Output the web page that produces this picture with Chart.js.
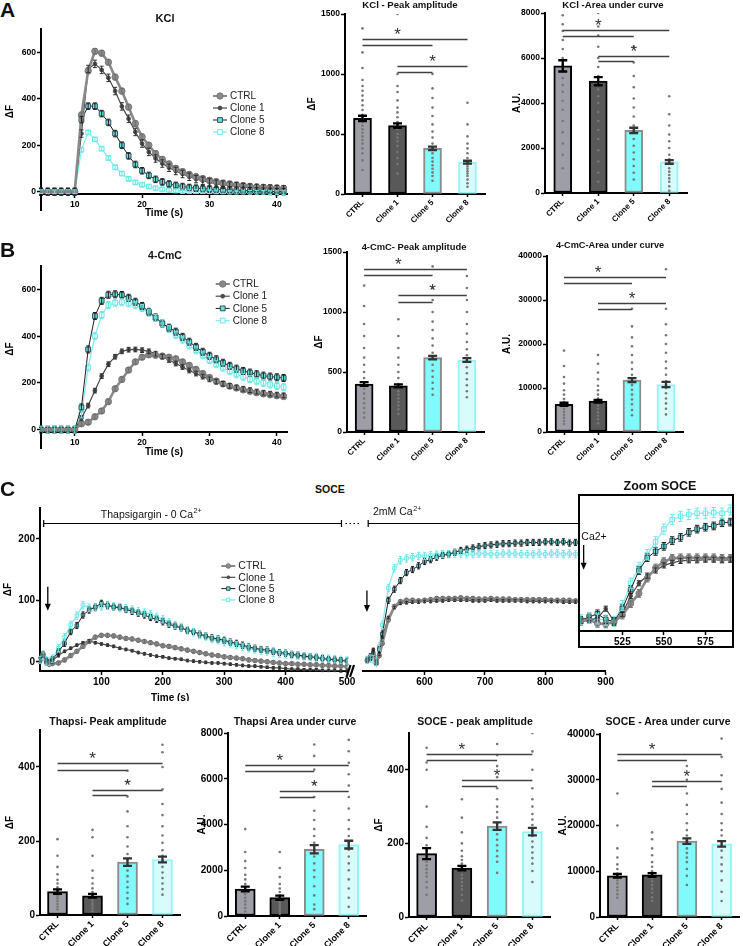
<!DOCTYPE html>
<html>
<head>
<meta charset="utf-8">
<script src="https://cdn.jsdelivr.net/npm/chart.js@4.4.1/dist/chart.umd.min.js"></script>
<style>
  html, body { margin: 0; padding: 0; background: #fff; }
  body { position: relative; width: 743px; height: 946px; overflow: hidden; font-family: 'Liberation Sans', Arial, sans-serif; }
  canvas { position: absolute; }
  .lbl { position: absolute; white-space: nowrap; line-height: 1; color: #111; }
</style>
</head>
<body>
<script>
// ---------- data ----------
const groups = ['CTRL', 'Clone 1', 'Clone 5', 'Clone 8'];

// A - KCl traces (ΔF)
const kclTime = [5,6,7,8,9,10,11,12,13,14,15,16,17,18,19,20,21,22,23,24,25,26,27,28,29,30,31,32,33,34,35,36,37,38,39,40,41];
const kclCtrl = [0,0,0,0,0,0,330,520,604,596,557,493,433,364,293,236,200,164,139,119,100,86,74,64,56,49,43,37,33,29,26,23,20,19,17,16,14];
const kclC1 = [0,0,0,0,0,0,250,528,550,524,490,433,367,314,257,207,171,143,121,103,89,76,64,54,47,40,34,30,26,23,20,17,16,14,13,11,10];
const kclC5 = [0,0,0,0,0,0,310,368,368,336,298,250,200,154,117,90,70,53,42,33,27,22,18,15,13,11,9,8,7,6,5,4,3,2,1,0,0];
const kclC8 = [0,0,0,0,0,0,180,255,225,185,145,105,78,55,40,30,22,15,10,7,5,3,2,1,0,0,-1,-1,-2,-2,-2,-3,-3,-3,-4,-4,-4];
const kclSem = [12, 16, 14, 8];

// B - 4-CmC traces (ΔF)
const cmcTime = kclTime;
const cmcCtrl = [0,0,0,0,0,0,25,32,55,80,120,175,215,255,290,310,320,318,315,310,303,290,275,258,240,223,208,196,186,178,170,164,158,153,149,145,142];
const cmcC1 = [0,0,0,0,0,0,50,103,167,229,280,312,335,342,343,340,335,325,312,298,283,268,253,240,227,215,205,196,188,181,175,169,163,158,154,150,147];
const cmcC5 = [0,0,0,0,0,0,95,343,486,551,577,579,576,564,547,529,504,480,454,436,419,397,376,354,333,316,301,286,273,261,251,244,237,231,227,224,221];
const cmcC8 = [0,0,0,0,0,0,65,266,400,490,533,543,545,540,532,520,500,478,455,430,405,385,360,340,318,298,280,265,250,237,226,216,207,200,193,187,182];
const cmcSem = [10, 10, 15, 15];

// C - SOCE traces, thapsigargin part (0 Ca2+)
const socTime1 = [0,5,10,15,20,30,40,50,60,70,80,90,100,110,120,130,140,150,160,170,180,190,200,210,220,230,240,250,260,270,280,290,300,310,320,330,340,350,360,370,380,390,400,410,420,430,440,450,460,470,480,490,500];
const socCtrl1 = [3,12,4,-3,-3,-2,3,10,17,25,33,40,43,43,42,40,38,37,35,33,31,29,26,25,23,21,19,17,15,13,11,10,8,7,6,5,3,2,1,0,-1,-2,-3,-3,-4,-4,-5,-5,-6,-6,-7,-7,-8];
const socC1_1 = [3,10,2,0,2,10,17,22,27,31,34,31,29,27,25,22,20,18,15,13,11,9,8,6,5,4,2,1,0,-1,-2,-2,-3,-4,-5,-6,-7,-7,-8,-9,-10,-10,-11,-12,-12,-13,-13,-13,-14,-14,-14,-15,-15];
const socC5_1 = [2,12,0,-2,3,16,30,49,59,76,84,89,95,92,89,88,85,82,79,76,72,69,65,61,58,55,51,49,45,42,39,37,35,32,30,27,24,22,20,19,17,15,14,12,11,9,8,7,5,4,3,2,1];
const socC8_1 = [3,10,2,0,5,22,40,60,75,92,88,88,90,91,90,89,87,85,82,80,77,73,69,64,60,56,51,48,44,41,37,35,32,30,27,24,22,20,18,17,15,13,12,11,10,9,8,7,6,5,4,3,2];
// C - SOCE traces, 2 mM Ca2+ part
const socTime2 = [505,510,515,520,525,530,540,550,560,570,580,590,600,610,620,630,640,650,660,670,680,690,700,710,720,730,740,750,760,770,780,790,800,810,820,830,840,850];
const socCtrl2 = [2,5,10,-3,10,30,68,90,98,100,100,99,100,101,103,103,103,103,104,103,103,102,102,103,102,102,102,101,101,101,101,101,101,100,100,100,100,99];
const socC1_2 = [3,5,20,0,12,40,72,88,95,96,97,97,98,98,99,99,100,100,100,100,99,99,99,100,99,99,99,99,99,98,98,98,98,98,98,97,97,97];
const socC5_2 = [3,8,14,0,20,45,100,118,132,145,150,156,163,166,170,173,175,178,181,183,185,187,189,190,191,192,192,193,193,194,194,194,195,195,194,195,193,194];
const socC8_2 = [3,5,4,0,25,60,120,152,165,168,170,172,172,173,174,175,175,176,176,175,175,176,176,175,175,176,176,176,175,175,175,176,175,176,176,175,176,175];
const socSem = [3, 2, 5, 6];
// Zoom SOCE
const zoomTime = [500,505,510,515,520,525,530,535,540,545,550,555,560,565,570,575,580,585,590];
const zoomCtrl = [0,3,-3,-4,-1,10,28,44,68,84,94,99,100,100,100,100,100,99,99];
const zoomC1 = [0,2,5,20,0,12,40,60,72,80,88,92,95,96,96,97,97,96,97];
const zoomC5 = [2,7,12,3,0,20,50,80,100,110,118,127,132,140,145,148,150,155,156];
const zoomC8 = [3,5,4,2,0,25,60,85,105,125,145,160,165,168,170,170,171,170,175];
const zoomSem = [6, 4, 6, 8];

// bar panels: mean, SEM, single cells, significance levels
// sig order: CTRL-Clone 8, CTRL-Clone 5, Clone 1-Clone 8, Clone 1-Clone 5
const kclPeakMean = [630, 570, 380, 265];
const kclPeakSem = [22, 18, 14, 12];
const kclPeakDots = [
  [1380,1180,1050,950,900,860,820,780,740,700,660,630,600,570,540,510,480,450,420,380,340,280,200],
  [1500,1000,900,850,780,720,680,640,600,570,540,500,470,440,400,350,300,250,170],
  [1000,880,800,720,650,580,520,470,420,380,340,300,270,240,210,180,150,110],
  [760,580,480,420,380,340,300,270,250,230,210,190,170,150,120,90,60]];
const kclPeakSig = [1290, 1240, 1070, 1020];

const kclAucMean = [5650, 4970, 2780, 1380];
const kclAucSem = [250, 180, 120, 80];
const kclAucDots = [
  [7900,7500,7200,6800,6400,6000,5700,5400,5100,4800,4500,4100,3700,3200,2700,2200,1700,1100],
  [8000,7400,7000,6500,6000,5600,5200,4900,4600,4300,4000,3600,3200,2800,2400,1900,1400,900,500],
  [6500,5800,5200,4700,4200,3800,3400,3000,2700,2400,2100,1800,1500,1200,900,600],
  [4300,3500,3000,2600,2300,2000,1700,1500,1300,1100,950,800,650,500,300,100]];
const kclAucSig = [7250, 7000, 6100, 5850];

const cmcPeakMean = [400, 385, 620, 600];
const cmcPeakSem = [15, 12, 15, 15];
const cmcPeakDots = [
  [1220,1050,900,800,700,620,560,500,450,400,360,320,280,240,200,160,120],
  [940,800,700,620,560,500,450,400,370,340,310,280,250,220,190,150],
  [1380,1200,1100,1000,920,850,780,720,660,610,560,510,460,410,360,310],
  [1300,1200,1100,1000,900,820,750,690,640,590,540,490,440,390,340,290]];
const cmcPeakSig = [1356, 1305, 1139, 1087];

const cmcAucMean = [6300, 7000, 11800, 10800];
const cmcAucSem = [350, 300, 450, 600];
const cmcAucDots = [
  [18500,15000,12500,11000,9500,8500,7500,6800,6000,5300,4600,3900,3200,2500,1800],
  [17500,15500,13500,12000,10500,9500,8500,7600,6800,6000,5300,4500,3700,2900,2000],
  [28000,24000,21500,19500,17500,15800,14300,13000,11800,10700,9600,8500,7400,6300,5000,3800],
  [37000,28000,24500,22000,20000,18000,16000,14500,13000,11500,10000,8800,7600,6500,5300,4000]];
const cmcAucSig = [35300, 33900, 29400, 28000];

const thPeakMean = [63, 52, 143, 150];
const thPeakSem = [6, 5, 10, 8];
const thPeakDots = [
  [205,160,130,110,95,85,75,68,60,52,45,38,30,22,15],
  [230,210,160,120,100,85,72,62,55,48,40,33,26,18,10],
  [390,360,320,280,240,210,185,165,150,135,120,105,90,75,60,45,30],
  [460,440,400,340,300,270,240,215,195,175,160,145,130,115,100,85,70,55]];
const thPeakSig = [410, 393, 337, 324];

const thAucMean = [1180, 800, 2920, 3120];
const thAucSem = [100, 90, 180, 170];
const thAucDots = [
  [3800,2800,2400,2100,1800,1600,1400,1250,1100,950,800,650,500,350,200],
  [2800,2100,1700,1400,1200,1050,900,800,700,600,500,400,300,200,100],
  [7500,7000,6400,5800,5200,4600,4200,3800,3500,3200,2900,2600,2300,2000,1700,1300,900,500,300],
  [7700,7200,6700,6200,5700,5200,4700,4200,3800,3500,3200,2900,2600,2300,2000,1600,1200,800,400]];
const thAucSig = [6620, 6330, 5480, 5200];

const socPeakMean = [172, 133, 247, 232];
const socPeakSem = [15, 6, 10, 10];
const socPeakDots = [
  [460,420,400,300,245,215,195,180,170,160,150,140,130,120,110,95,80,60],
  [320,270,230,200,180,165,155,145,135,125,115,105,95,85,75,60,45],
  [470,440,410,380,350,320,300,285,270,255,240,225,210,195,180,165,150,120],
  [500,450,400,350,320,300,280,265,250,235,220,205,190,175,160,145,125,95]];
const socPeakSig = [443, 427, 372, 357];

const socAucMean = [9000, 9200, 16600, 16000];
const socAucSem = [400, 400, 600, 600];
const socAucDots = [
  [27000,20000,15000,13000,11500,10500,9500,8800,8000,7300,6500,5800,5000,4200],
  [18500,17000,15000,13500,12000,11000,10000,9200,8500,7800,7000,6200,5300,4300,3500],
  [33000,30000,27000,24500,22500,20500,19000,17800,16800,16000,15000,14000,13000,12000,10500,9000,7000],
  [39000,35000,31000,28000,25000,22500,20500,19000,17800,16500,15500,14500,13000,11500,10000,8000,5500,3500]];
const socAucSig = [35560, 34250, 29800, 28650];

// ---------- styles ----------
const FAM = "'Liberation Sans', Arial, Helvetica, sans-serif";
Chart.defaults.font.family = FAM;
Chart.defaults.color = '#000';

const barFill = ['#9e9ea6', '#595959', '#80fafa', '#d8fcfc'];
const barEdge = ['#000000', '#000000', '#8c8c8c', '#96f4f4'];
const barErr = ['#000000', '#000000', '#333333', '#333333'];
const traceStyle = [
  { line: '#8a8a8a', lw: 2.6, shape: 'circle', r: 3.2, fill: '#8a8a8a', edge: '#7a7a7a', err: '#707070' },
  { line: '#4a4a4a', lw: 1.2, shape: 'circle', r: 1.9, fill: '#4a4a4a', edge: '#4a4a4a', err: '#303030' },
  { line: '#1e1e1e', lw: 1, shape: 'rect', r: 3.4, fill: '#63e3e3', edge: '#2f5252', err: '#1e1e1e' },
  { line: '#84efef', lw: 1.3, shape: 'rect', r: 3.4, fill: '#effefe', edge: '#6fe6e6', err: '#6fe6e6' }
];

// ---------- helpers ----------
function addLabel(text, x, y, size, weight, corner) {
  const d = document.createElement('div');
  d.className = 'lbl';
  d.textContent = text;
  d.style.left = x + 'px';
  d.style.top = y + 'px';
  d.style.fontSize = size + 'px';
  d.style.fontWeight = weight || 'bold';
  if (!corner) d.style.transform = 'translate(-50%, -50%)';
  document.body.appendChild(d);
}

function makeCanvas(area, m) {
  const w = area[2] - area[0] + m.l + m.r;
  const h = area[3] - area[1] + m.t + m.b;
  const c = document.createElement('canvas');
  c.width = w; c.height = h;
  c.style.left = (area[0] - m.l) + 'px';
  c.style.top = (area[1] - m.t) + 'px';
  c.style.width = w + 'px';
  c.style.height = h + 'px';
  document.body.appendChild(c);
  return c;
}

function yAxis(min, max, ticks, fs, title, titleX, area, m, hidden) {
  return {
    type: 'linear', min: min, max: max, display: !hidden,
    afterFit: s => { s.width = m.l; },
    afterBuildTicks: s => { s.ticks = ticks.map(v => ({ value: v })); },
    border: { color: '#000', width: 2 },
    grid: { drawOnChartArea: false, color: '#000', tickLength: 4, tickWidth: 1.5 },
    ticks: { font: { size: fs, weight: 'bold' }, color: '#000', padding: 1, callback: v => String(v) },
    title: {
      display: !!title, text: title || '', color: '#000',
      font: { size: 10, weight: 'bold' },
      padding: { top: Math.max(0, titleX - (area[0] - m.l) - 6), bottom: 0 }
    }
  };
}

function marker(ctx, ds, x, y) {
  const r = ds.pointRadius;
  ctx.fillStyle = ds.pointBackgroundColor;
  ctx.strokeStyle = ds.pointBorderColor;
  ctx.lineWidth = 1;
  ctx.beginPath();
  if (ds.pointStyle === 'rect') {
    const s = r * Math.SQRT1_2;
    ctx.rect(x - s, y - s, 2 * s, 2 * s);
  } else {
    ctx.arc(x, y, r, 0, Math.PI * 2);
  }
  ctx.fill();
  ctx.stroke();
}

function supText(ctx, base, sup, x, y, size) {
  ctx.textAlign = 'left';
  ctx.textBaseline = 'alphabetic';
  ctx.fillStyle = '#111';
  ctx.font = size + 'px ' + FAM;
  ctx.fillText(base, x, y);
  const w = ctx.measureText(base).width;
  ctx.font = (size * 0.68) + 'px ' + FAM;
  ctx.fillText(sup, x + w + 0.5, y - size * 0.42);
}

function arrowDown(ctx, x, yTop, yTip) {
  ctx.lineWidth = 1.3;
  ctx.beginPath();
  ctx.moveTo(x, yTop);
  ctx.lineTo(x, yTip - 5);
  ctx.stroke();
  ctx.beginPath();
  ctx.moveTo(x - 3, yTip - 7);
  ctx.lineTo(x + 3, yTip - 7);
  ctx.lineTo(x, yTip);
  ctx.closePath();
  ctx.fill();
}

// ---------- plugins ----------
const errorBars = {
  id: 'errorBars',
  afterDatasetsDraw(chart) {
    const ctx = chart.ctx;
    const ys = chart.scales.y;
    ctx.save();
    chart.data.datasets.forEach((ds, di) => {
      if (ds.sem === undefined) return;
      const meta = chart.getDatasetMeta(di);
      ctx.lineWidth = ds.errWidth;
      meta.data.forEach((el, i) => {
        const raw = ds.data[i];
        const v = typeof raw === 'number' ? raw : raw.y;
        const s = Array.isArray(ds.sem) ? ds.sem[i] : ds.sem;
        const yTop = ys.getPixelForValue(v + s);
        const yBot = ys.getPixelForValue(v - s);
        const cw = ds.capWidth;
        ctx.strokeStyle = Array.isArray(ds.errColor) ? ds.errColor[i] : ds.errColor;
        ctx.beginPath();
        ctx.moveTo(el.x, yTop); ctx.lineTo(el.x, yBot);
        ctx.moveTo(el.x - cw, yTop); ctx.lineTo(el.x + cw, yTop);
        ctx.moveTo(el.x - cw, yBot); ctx.lineTo(el.x + cw, yBot);
        ctx.stroke();
      });
    });
    ctx.restore();
  }
};

const sigPairs = [[0, 3], [0, 2], [1, 3], [1, 2]];
const sigBars = {
  id: 'sigBars',
  afterDatasetsDraw(chart, args, opts) {
    if (!opts.levels) return;
    const { ctx, scales: { x, y } } = chart;
    ctx.save();
    ctx.strokeStyle = '#404040';
    ctx.lineWidth = 1.7;
    opts.levels.forEach((lv, k) => {
      const [a, b] = sigPairs[k];
      const py = Math.round(y.getPixelForValue(lv)) + 0.5;
      ctx.beginPath();
      ctx.moveTo(x.getPixelForValue(a), py);
      ctx.lineTo(x.getPixelForValue(b), py);
      ctx.stroke();
    });
    ctx.fillStyle = '#333';
    ctx.font = '17px ' + FAM;
    ctx.textAlign = 'center';
    ctx.textBaseline = 'alphabetic';
    ctx.fillText('*', x.getPixelForValue(1), y.getPixelForValue(opts.levels[0]) + 1);
    ctx.fillText('*', x.getPixelForValue(2), y.getPixelForValue(opts.levels[2]) + 1);
    ctx.restore();
  }
};

const traceLegend = {
  id: 'traceLegend',
  afterDraw(chart, args, o) {
    if (o.x === undefined) return;
    const ctx = chart.ctx;
    ctx.save();
    chart.data.datasets.forEach((ds, i) => {
      const x = o.x, y = o.y + i * o.dy;
      ctx.strokeStyle = ds.borderColor;
      ctx.lineWidth = Math.min(ds.borderWidth, 2);
      ctx.beginPath();
      ctx.moveTo(x - 7, y); ctx.lineTo(x + 7, y);
      ctx.stroke();
      marker(ctx, ds, x, y);
      ctx.fillStyle = '#222';
      ctx.font = o.size + 'px ' + FAM;
      ctx.textAlign = 'left';
      ctx.textBaseline = 'middle';
      ctx.fillText(ds.label, x + 10, y + 0.5);
    });
    ctx.restore();
  }
};

const axisTail = {
  id: 'axisTail',
  afterDraw(chart, args, o) {
    if (!o.len) return;
    const { ctx, chartArea: ca } = chart;
    ctx.save();
    ctx.strokeStyle = '#000';
    ctx.lineWidth = 2;
    ctx.beginPath();
    ctx.moveTo(ca.left, ca.bottom);
    ctx.lineTo(ca.left, ca.bottom + o.len);
    ctx.stroke();
    ctx.restore();
  }
};

// ---------- chart builders ----------
function barChart(o) {
  const c = makeCanvas(o.area, o.m);
  return new Chart(c, {
    type: 'bar',
    data: {
      labels: groups,
      datasets: [
        {
          type: 'line', showLine: false, order: 1,
          data: groups.flatMap((g, gi) => o.dots[gi].map(v => ({ x: g, y: v }))),
          pointRadius: 1.3, pointBackgroundColor: '#777777', pointBorderWidth: 0
        },
        {
          order: 2, data: o.mean,
          sem: o.sem, errColor: barErr, errWidth: 2.3, capWidth: 4.5,
          backgroundColor: barFill, borderColor: barEdge, borderWidth: 2,
          borderSkipped: false, barThickness: o.bw
        }
      ]
    },
    options: {
      responsive: false, animation: false, devicePixelRatio: 1,
      layout: { padding: { left: 0, top: o.m.t, right: o.m.r, bottom: 0 } },
      plugins: { legend: { display: false }, tooltip: { enabled: false }, sigBars: { levels: o.sig } },
      scales: {
        x: {
          type: 'category',
          afterFit: s => { s.height = o.m.b; },
          border: { color: '#000', width: 2 },
          grid: { drawOnChartArea: false, offset: false, color: '#000', tickLength: 3, tickWidth: 1.5 },
          ticks: { font: { size: o.xfs, weight: 'bold' }, color: '#000', minRotation: 45, maxRotation: 45, autoSkip: false, padding: 1 }
        },
        y: yAxis(0, o.max, o.ticks, o.fs, o.yTitle, o.yTitleX, o.area, o.m)
      }
    },
    plugins: [errorBars, sigBars]
  });
}

function traceChart(o) {
  const c = makeCanvas(o.area, o.m);
  const ox = o.area[0] - o.m.l, oy = o.area[1] - o.m.t;
  const legend = o.legend ? { x: o.legend.x - ox, y: o.legend.y - oy, dy: o.legend.dy, size: o.legend.size } : {};
  return new Chart(c, {
    type: 'line',
    data: {
      datasets: o.series.map((vals, gi) => {
        const st = traceStyle[gi];
        return {
          label: groups[gi],
          data: o.time.map((t, i) => ({ x: t, y: vals[i] })),
          borderColor: st.line, borderWidth: st.lw,
          pointStyle: st.shape, pointRadius: st.r * o.k,
          pointBackgroundColor: st.fill, pointBorderColor: st.edge, pointBorderWidth: 1,
          tension: 0, fill: false,
          sem: o.sem[gi], errColor: st.err, errWidth: 1, capWidth: o.cap
        };
      })
    },
    options: {
      responsive: false, animation: false, devicePixelRatio: 1,
      layout: { padding: { left: o.hideY ? o.m.l : 0, top: o.m.t, right: o.m.r, bottom: 0 } },
      plugins: {
        legend: { display: false }, tooltip: { enabled: false },
        traceLegend: legend, axisTail: { len: o.yExt || 0 }
      },
      scales: {
        x: {
          type: 'linear', min: o.x[0], max: o.x[1],
          afterFit: s => { s.height = o.m.b; },
          afterBuildTicks: s => { s.ticks = o.xTicks.map(v => ({ value: v })); },
          border: { color: '#000', width: 2 },
          grid: { drawOnChartArea: false, color: '#000', tickLength: 4, tickWidth: 1.5 },
          ticks: { font: { size: o.fs, weight: 'bold' }, color: '#000', padding: 1, maxRotation: 0, callback: v => String(v) },
          title: {
            display: !!o.xTitle, text: o.xTitle || '', color: '#000',
            font: { size: 10, weight: 'bold' }, padding: { top: 0, bottom: o.xTitlePad || 0 }
          }
        },
        y: yAxis(o.y[0], o.y[1], o.yTicks, o.fs, o.yTitle, o.yTitleX, o.area, o.m, o.hideY)
      }
    },
    plugins: [errorBars, traceLegend, axisTail].concat(o.extra || [])
  });
}

// ---------- SOCE annotations ----------
const bracketLevel = 225;
const thapsiSpan = [6, 491];
const caStart = 506.6;

const soceLeftDeco = {
  id: 'soceLeftDeco',
  afterDraw(chart) {
    const { ctx, chartArea: ca, scales: { x, y } } = chart;
    ctx.save();
    ctx.strokeStyle = '#000';
    ctx.fillStyle = '#000';
    ctx.lineWidth = 1.2;
    const by = Math.round(y.getPixelForValue(bracketLevel)) + 0.5;
    const x1 = x.getPixelForValue(thapsiSpan[0]), x2 = x.getPixelForValue(thapsiSpan[1]);
    ctx.beginPath();
    ctx.moveTo(x1, by); ctx.lineTo(x2, by);
    ctx.moveTo(x1, by - 3.5); ctx.lineTo(x1, by + 3.5);
    ctx.moveTo(x2, by - 3.5); ctx.lineTo(x2, by + 3.5);
    ctx.stroke();
    ctx.setLineDash([1.5, 2.5]);
    ctx.beginPath();
    ctx.moveTo(x2 + 4, by); ctx.lineTo(x2 + 18, by);
    ctx.stroke();
    ctx.setLineDash([]);
    supText(ctx, 'Thapsigargin - 0 Ca', '2+', x.getPixelForValue(99), y.getPixelForValue(234), 10.5);
    ctx.fillStyle = '#000';
    arrowDown(ctx, x.getPixelForValue(12.7), y.getPixelForValue(122), y.getPixelForValue(83));
    // axis break
    ctx.lineWidth = 2.2;
    [1.5, 5].forEach(dx => {
      ctx.beginPath();
      ctx.moveTo(ca.right + dx - 2, ca.bottom + 6);
      ctx.lineTo(ca.right + dx + 2, ca.bottom - 6);
      ctx.stroke();
    });
    ctx.font = 'bold 10px ' + FAM;
    ctx.textAlign = 'center';
    ctx.textBaseline = 'middle';
    ctx.fillText('Time (s)', x.getPixelForValue(212), ca.bottom + 27);
    ctx.restore();
  }
};

const soceRightDeco = {
  id: 'soceRightDeco',
  afterDraw(chart) {
    const { ctx, chartArea: ca, scales: { x, y } } = chart;
    ctx.save();
    ctx.strokeStyle = '#000';
    ctx.fillStyle = '#000';
    ctx.lineWidth = 1.2;
    const by = Math.round(y.getPixelForValue(bracketLevel)) + 0.5;
    const x1 = x.getPixelForValue(caStart);
    ctx.beginPath();
    ctx.moveTo(x1, by); ctx.lineTo(ca.right, by);
    ctx.moveTo(x1, by - 3.5); ctx.lineTo(x1, by + 3.5);
    ctx.stroke();
    supText(ctx, '2mM Ca', '2+', x.getPixelForValue(514.6), y.getPixelForValue(238), 10.5);
    ctx.fillStyle = '#000';
    arrowDown(ctx, x.getPixelForValue(504.5), y.getPixelForValue(116), y.getPixelForValue(81));
    ctx.restore();
  }
};

const insetDeco = {
  id: 'insetDeco',
  beforeDraw(chart) {
    const { ctx, chartArea: ca } = chart;
    ctx.save();
    ctx.fillStyle = '#fff';
    ctx.fillRect(ca.left - 1, ca.top - 1, ca.width + 2, ca.height + 17);
    ctx.restore();
  },
  afterDraw(chart) {
    const { ctx, chartArea: ca, scales: { x, y } } = chart;
    ctx.save();
    ctx.strokeStyle = '#000';
    ctx.lineWidth = 2;
    ctx.strokeRect(ca.left - 1, ca.top - 1, ca.width + 2, ca.height + 17);
    ctx.fillStyle = '#111';
    ctx.font = '10.5px ' + FAM;
    ctx.textAlign = 'left';
    ctx.textBaseline = 'middle';
    ctx.fillText('Ca2+', x.getPixelForValue(499.7) + 1, y.getPixelForValue(133));
    ctx.fillStyle = '#000';
    arrowDown(ctx, x.getPixelForValue(501.7), y.getPixelForValue(120), y.getPixelForValue(81));
    ctx.restore();
  }
};

// ---------- panel A ----------
traceChart({
  area: [41, 29, 288, 194], m: { l: 40, t: 8, r: 4, b: 26 },
  time: kclTime, series: [kclCtrl, kclC1, kclC5, kclC8], sem: kclSem, k: 1, cap: 2,
  x: [5, 41.5], xTicks: [10, 20, 30, 40], xTitle: 'Time (s)', xTitlePad: 1, fs: 8.6,
  y: [-10, 700], yTicks: [0, 200, 400, 600], yTitle: 'ΔF', yTitleX: 10,
  legend: { x: 220, y: 96, dy: 12, size: 10 }, yExt: 17
});
barChart({
  area: [345, 14, 485, 194], m: { l: 42, t: 10, r: 4, b: 34 },
  mean: kclPeakMean, sem: kclPeakSem, dots: kclPeakDots, sig: kclPeakSig,
  max: 1500, ticks: [0, 500, 1000, 1500], fs: 8.5, xfs: 8, bw: 18, yTitle: 'ΔF', yTitleX: 312
});
barChart({
  area: [545, 13, 687, 193], m: { l: 42, t: 10, r: 4, b: 34 },
  mean: kclAucMean, sem: kclAucSem, dots: kclAucDots, sig: kclAucSig,
  max: 8000, ticks: [0, 2000, 4000, 6000, 8000], fs: 8.5, xfs: 8, bw: 18, yTitle: 'A.U.', yTitleX: 517
});

// ---------- panel B ----------
traceChart({
  area: [41, 266, 288, 432], m: { l: 40, t: 8, r: 4, b: 26 },
  time: cmcTime, series: [cmcCtrl, cmcC1, cmcC5, cmcC8], sem: cmcSem, k: 1, cap: 2,
  x: [5, 41.5], xTicks: [10, 20, 30, 40], xTitle: 'Time (s)', xTitlePad: 0, fs: 8.6,
  y: [-10, 700], yTicks: [0, 200, 400, 600], yTitle: 'ΔF', yTitleX: 10,
  legend: { x: 222.7, y: 284, dy: 12.2, size: 10 }, yExt: 17
});
barChart({
  area: [347, 252, 484, 432], m: { l: 42, t: 10, r: 4, b: 34 },
  mean: cmcPeakMean, sem: cmcPeakSem, dots: cmcPeakDots, sig: cmcPeakSig,
  max: 1500, ticks: [0, 500, 1000, 1500], fs: 8.5, xfs: 8, bw: 18, yTitle: 'ΔF', yTitleX: 319
});
barChart({
  area: [547, 256, 683, 432], m: { l: 48, t: 10, r: 4, b: 34 },
  mean: cmcAucMean, sem: cmcAucSem, dots: cmcAucDots, sig: cmcAucSig,
  max: 40000, ticks: [0, 10000, 20000, 30000, 40000], fs: 8.5, xfs: 8, bw: 18, yTitle: 'A.U.', yTitleX: 507
});

// ---------- panel C ----------
traceChart({
  area: [40, 508, 347, 671], m: { l: 38, t: 10, r: 14, b: 30 },
  time: socTime1, series: [socCtrl1, socC1_1, socC5_1, socC8_1], sem: socSem, k: 0.72, cap: 1.5,
  x: [0, 500], xTicks: [100, 200, 300, 400, 500], fs: 10,
  y: [-15, 250], yTicks: [0, 100, 200], yTitle: 'ΔF', yTitleX: 8,
  legend: { x: 228.3, y: 566, dy: 11.3, size: 10.5 }, extra: [soceLeftDeco]
});
traceChart({
  area: [358, 508, 607, 671], m: { l: 0, t: 10, r: 8, b: 30 }, hideY: true,
  time: socTime2, series: [socCtrl2, socC1_2, socC5_2, socC8_2], sem: socSem, k: 0.72, cap: 1.5,
  x: [498, 900], xTicks: [600, 700, 800, 900], fs: 10,
  y: [-15, 250], yTicks: [0, 100, 200], extra: [soceRightDeco]
});
traceChart({
  area: [577, 496, 734, 631], m: { l: 3, t: 20, r: 3, b: 18 }, hideY: true,
  time: zoomTime, series: [zoomCtrl, zoomC1, zoomC5, zoomC8], sem: zoomSem, k: 0.95, cap: 2.2,
  x: [499.5, 591], xTicks: [525, 550, 575], fs: 10,
  y: [-15, 197], yTicks: [], extra: [insetDeco]
});

// ---------- bottom row ----------
barChart({
  area: [40, 730, 180, 915], m: { l: 38, t: 10, r: 4, b: 31 },
  mean: thPeakMean, sem: thPeakSem, dots: thPeakDots, sig: thPeakSig,
  max: 500, ticks: [0, 200, 400], fs: 10, xfs: 9, bw: 20, yTitle: 'ΔF', yTitleX: 10
});
barChart({
  area: [228, 733, 366, 916], m: { l: 40, t: 10, r: 4, b: 30 },
  mean: thAucMean, sem: thAucSem, dots: thAucDots, sig: thAucSig,
  max: 8000, ticks: [0, 2000, 4000, 6000, 8000], fs: 10, xfs: 9, bw: 20, yTitle: 'A.U.', yTitleX: 202
});
barChart({
  area: [409, 733, 550, 917], m: { l: 38, t: 10, r: 4, b: 29 },
  mean: socPeakMean, sem: socPeakSem, dots: socPeakDots, sig: socPeakSig,
  max: 500, ticks: [0, 200, 400], fs: 10, xfs: 9, bw: 20, yTitle: 'ΔF', yTitleX: 379
});
barChart({
  area: [600, 734, 742, 917], m: { l: 45, t: 10, r: 1, b: 29 },
  mean: socAucMean, sem: socAucSem, dots: socAucDots, sig: socAucSig,
  max: 40000, ticks: [0, 10000, 20000, 30000, 40000], fs: 10, xfs: 9, bw: 20, yTitle: 'A.U.', yTitleX: 563
});

// ---------- titles and panel letters ----------
addLabel('A', 0, -1, 21, 'bold', true);
addLabel('B', 0, 239, 21, 'bold', true);
addLabel('C', 0, 478, 21, 'bold', true);
addLabel('KCl', 165, 18, 11);
addLabel('KCl - Peak amplitude', 410, 4.5, 9.6);
addLabel('KCl -Area under curve', 613, 4.5, 9.6);
addLabel('4-CmC', 165, 255, 10.5);
addLabel('4-CmC- Peak amplitude', 414, 246.5, 9.4);
addLabel('4-CmC-Area under curve', 610, 246, 9.2);
addLabel('SOCE', 330, 489, 10.5);
addLabel('Zoom SOCE', 660, 486, 12.5);
addLabel('Thapsi- Peak amplitude', 108, 721, 10.5);
addLabel('Thapsi Area under curve', 295, 721, 10.5);
addLabel('SOCE - peak amplitude', 475, 721, 10.5);
addLabel('SOCE - Area under curve', 668, 721, 10.5);
</script>
</body>
</html>
